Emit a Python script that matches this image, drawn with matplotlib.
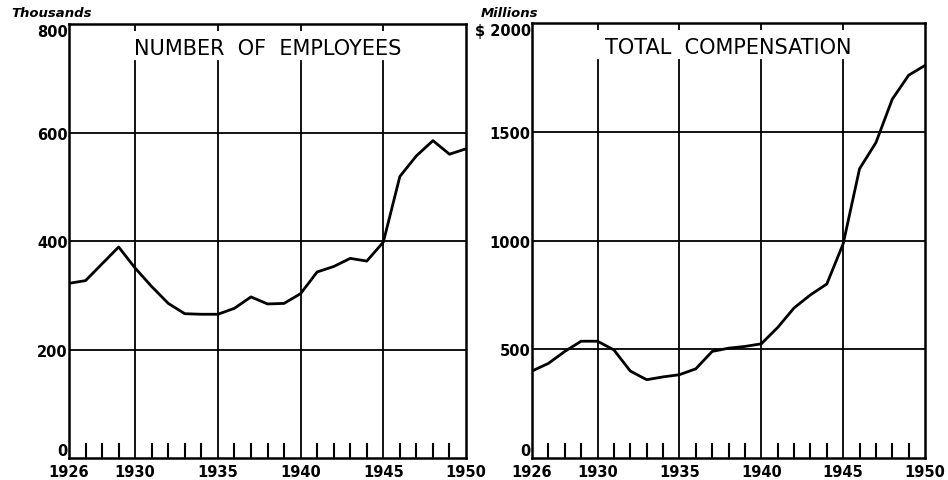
import numpy as np
import matplotlib.pyplot as plt

years = np.arange(1926, 1951)
employees = [322, 327, 358, 389, 350, 316, 285, 266, 265, 265, 276, 297, 284, 285, 303,
             343, 353, 368, 363, 398, 519, 557, 585, 560, 570]
compensation = [400, 435, 490, 537, 537, 497, 400, 360, 373, 383, 410, 490, 505, 513, 525,
                600, 690, 750, 800, 985, 1330, 1450, 1650, 1760, 1805]

year_ticks = [1926, 1930, 1935, 1940, 1945, 1950]
grid_years = [1930, 1935, 1940, 1945]
minor_years = [y for y in years if y not in year_ticks]

emp_ticks = [0, 200, 400, 600, 800]
emp_labels = ["0", "200", "400", "600", "800"]
comp_ticks = [0, 500, 1000, 1500, 2000]
comp_labels = ["0", "500", "1000", "1500", "$ 2000"]

fig = plt.figure(figsize=(9.48, 4.81), dpi=100)
ax1 = fig.add_axes([0.0728, 0.0457, 0.4188, 0.9023])
ax2 = fig.add_axes([0.5612, 0.0457, 0.4146, 0.9044])


def style(ax, data, yticks, ylabels, ymax, title, unit, unit_x):
    ax.set_xlim(1926, 1950)
    ax.set_ylim(0, ymax)
    for t in yticks[1:-1]:
        ax.axhline(t, color="black", lw=1.3, zorder=1)
    for g in grid_years:
        ax.axvline(g, ymax=0.915, color="black", lw=1.3, zorder=1)
    ax.plot(years, data, color="black", lw=2.0, zorder=3)
    for s in ax.spines.values():
        s.set_linewidth(1.8)
    ax.set_xticks(year_ticks)
    ax.set_xticklabels([str(y) for y in year_ticks], fontsize=10.5, fontweight="bold")
    ax.set_xticks(minor_years, minor=True)
    ax.tick_params(axis="x", which="major", length=0, pad=4)
    ax.tick_params(axis="x", which="minor", direction="in", length=11, width=1.5)
    ax.set_yticks(yticks)
    ax.set_yticklabels(ylabels, fontsize=10.5, fontweight="bold")
    ax.tick_params(axis="y", length=0, pad=1)
    # zero sits just above the axis, top value just below the frame
    labels = ax.get_yticklabels()
    labels[0].set_verticalalignment("bottom")
    labels[-1].set_verticalalignment("top")
    sec = ax.secondary_xaxis("top")
    sec.set_xticks(grid_years)
    sec.set_xticklabels([])
    sec.tick_params(direction="in", length=5, width=1.3)
    sec.spines["top"].set_visible(False)
    ax.text(0.5, 0.945, title, transform=ax.transAxes, ha="center", va="center",
            fontsize=15)
    fig.text(unit_x, 0.972, unit, fontsize=9.5, fontstyle="italic", fontweight="bold",
             ha="left", va="center")


style(ax1, employees, emp_ticks, emp_labels, 800, "NUMBER  OF  EMPLOYEES", "Thousands", 0.012)
style(ax2, compensation, comp_ticks, comp_labels, 2000, "TOTAL  COMPENSATION", "Millions", 0.507)

fig.savefig("out.png", dpi=100)
